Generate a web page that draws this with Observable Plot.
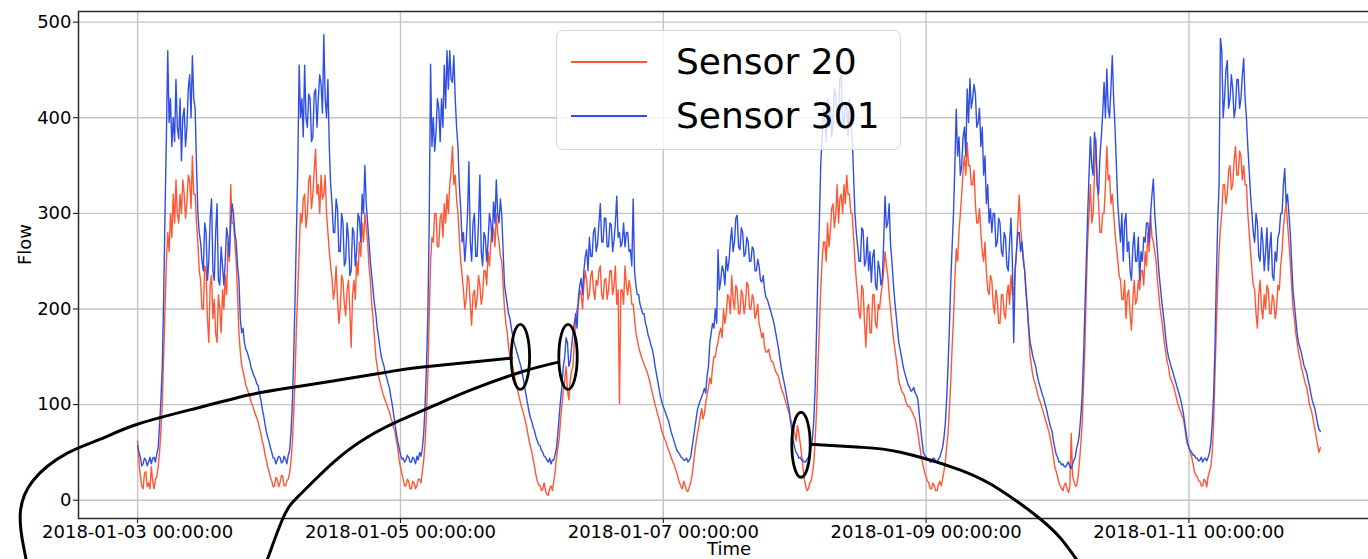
<!DOCTYPE html>
<html>
<head>
<meta charset="utf-8">
<script src="https://cdn.jsdelivr.net/npm/d3@7"></script>
<script src="https://cdn.jsdelivr.net/npm/@observablehq/plot@0.6"></script>
<style>
  html, body { margin: 0; padding: 0; background: #fff; }
  #wrap { position: relative; width: 1368px; height: 559px; overflow: hidden; font-family: "DejaVu Sans", sans-serif; }
  #legend { position: absolute; left: 556px; top: 30px; width: 345px; height: 120px; box-sizing: border-box;
            background: rgba(255,255,255,0.8); border: 1.2px solid #d6d6d6; border-radius: 7px; }
  .lg-line { position: absolute; left: 14px; width: 76px; height: 2px; }
  .lg-text { position: absolute; left: 119px; font-size: 36px; line-height: 44px; height: 44px; color: #000; white-space: nowrap; }
</style>
</head>
<body>
<div id="wrap"></div>
<script>
// ---------------- data (15-minute samples from 2018-01-03 00:00) ----------------
const startTime = "2018-01-03T00:00:00Z";
const stepMinutes = 15;
const seriesNames = ["Sensor 20", "Sensor 301"];
const seriesColors = ["#ff5733", "#2f4fe4"];

const sensor20 = [
  // Jan 3
  62,40,25,15, 12,28,30,14, 18,12,35,20, 12,22,25,35, 50,72,100,150, 200,250,280,260, 300,275,320,290, 335,300,290,320,
  300,335,320,295, 310,340,335,305, 360,320,320,290, 270,240,230,200, 200,245,240,190, 165,225,235,190, 210,175,165,215, 200,175,220,200,
  235,215,270,250, 330,290,290,270, 250,215,175,155, 141,135,128,120, 117,112,108,102, 99,94,90,86, 82,76,70,62, 57,48,42,35,
  // Jan 4
  30,24,20,14, 15,24,22,14, 18,26,25,15, 15,20,22,28, 40,60,90,130, 180,220,260,300, 290,315,320,285, 300,335,340,305,
  320,345,367,320, 330,300,340,315, 320,340,300,280, 260,245,232,210, 220,245,210,185, 200,235,230,205, 193,220,230,200, 160,215,230,210,
  250,235,270,255, 290,270,300,285, 270,245,230,205, 190,170,150,140, 130,124,118,112, 108,104,100,96, 92,86,82,76, 72,62,55,42,
  // Jan 5
  35,28,22,15, 15,22,20,12, 12,20,18,12, 15,22,22,18, 30,42,60,90, 130,190,250,275, 270,300,300,265, 265,295,300,275,
  310,290,320,300, 330,345,370,330, 340,315,300,275, 250,235,220,200, 210,235,230,205, 183,215,220,200, 210,235,225,205, 215,240,240,225,
  260,245,270,285, 284,265,300,280, 270,255,250,225, 200,185,175,160, 150,145,140,132, 125,118,112,106, 100,95,90,84, 78,70,62,56,
  // Jan 6
  50,42,35,26, 20,16,15,10, 12,18,10,6, 5,12,15,10, 20,30,45,55, 65,85,100,115, 125,140,115,105, 125,135,140,165,
  190,200,205,220, 215,200,225,240, 230,210,215,235, 240,220,210,230, 225,240,245,215, 210,230,232,210, 220,240,240,215, 225,245,205,220,
  101,220,220,205, 245,225,215,230, 222,205,205,190, 175,168,160,155, 150,146,142,138, 135,130,125,118, 112,106,100,95, 89,84,78,72,
  // Jan 7
  68,64,61,56, 52,48,44,40, 37,32,28,22, 18,14,12,20, 15,10,9,14, 18,26,37,50, 61,70,78,88, 96,85,90,102,
  110,118,128,122, 140,150,150,160, 165,175,180,170, 200,185,195,215, 212,195,235,210, 200,225,220,195, 195,220,215,195, 205,228,225,200,
  200,215,210,190, 195,205,185,178, 170,175,160,155, 155,158,150,145, 145,140,135,132, 130,124,118,114, 110,105,100,95, 90,85,80,74,
  // Jan 8
  70,62,78,70, 60,48,35,22, 15,10,12,18, 20,28,40,65, 95,140,180,220, 250,270,270,250, 290,265,280,305, 310,285,300,330,
  290,315,320,300, 330,310,340,320, 320,300,300,275, 250,230,215,195, 190,225,220,185, 160,200,205,175, 175,215,215,185, 180,205,200,215,
  225,240,260,245, 235,215,200,185, 170,160,150,138, 125,120,115,112, 110,104,100,98, 98,94,92,88, 85,78,70,60, 50,42,35,28,
  // Jan 9
  25,20,18,12, 12,18,15,10, 10,16,20,15, 22,30,40,55, 70,95,124,160, 190,230,263,250, 280,300,320,345, 360,340,374,350,
  350,330,330,345, 310,290,290,305, 280,260,250,270, 240,220,215,235, 230,205,195,220, 210,185,185,215, 215,195,190,215, 225,205,235,215,
  215,240,260,290, 319,285,270,255, 240,215,200,175, 150,140,130,125, 120,114,108,104, 100,95,90,85, 80,75,70,62, 55,45,35,30,
  // Jan 10
  25,18,15,12, 10,16,18,12, 8,14,70,25, 20,15,15,25, 40,58,80,120, 160,220,270,300, 330,290,300,340, 378,330,310,280,
  280,300,300,330, 370,335,340,310, 320,300,280,265, 250,235,230,210, 210,230,190,215, 220,195,178,210, 230,205,210,230, 220,240,240,225,
  260,245,280,260, 298,275,270,260, 250,230,215,200, 190,178,165,155, 145,140,130,126, 122,118,112,106, 100,96,92,88, 85,75,65,58,
  // Jan 11
  55,50,45,38, 30,26,25,20, 20,15,15,22, 20,14,25,30, 35,50,80,130, 180,225,260,285, 300,330,330,310, 320,345,350,325,
  330,355,370,340, 340,365,360,335, 350,330,330,300, 280,260,240,225, 220,195,180,215, 230,200,190,215, 200,225,220,195, 195,215,210,190,
  200,225,220,245, 260,285,300,310, 290,270,250,225, 200,190,175,165, 155,148,140,134, 128,122,118,110, 100,96,90,82, 75,66,58,50,
  // Jan 12 00:00
  55
];

const sensor301 = [
  // Jan 3
  57,50,45,36, 38,44,42,36, 40,45,38,44, 45,40,48,55, 78,105,140,210, 300,380,470,395, 420,370,400,375, 440,390,378,420,
  355,400,410,370, 390,430,445,400, 465,420,410,350, 300,280,270,250, 240,290,280,230, 250,295,315,240, 230,280,310,230, 225,265,245,225,
  250,285,275,255, 290,310,300,280, 270,245,230,190, 175,180,165,158, 155,150,145,138, 134,130,127,122, 120,112,105,96, 89,80,72,66,
  // Jan 4
  61,55,50,44, 44,38,42,46, 45,39,40,46, 43,38,47,52, 70,100,150,210, 280,350,455,400, 420,380,455,400, 390,425,420,375,
  380,425,430,390, 420,445,435,405, 487,420,400,440, 370,330,310,280, 280,315,305,260, 260,300,290,245, 250,290,275,235, 240,285,280,245,
  260,300,295,270, 320,300,350,310, 290,270,250,235, 220,205,195,180, 170,160,150,145, 140,132,128,122, 117,108,100,90, 80,70,62,55,
  // Jan 5
  48,43,44,40, 42,47,45,40, 40,45,43,38, 46,42,50,46, 54,70,100,140, 193,290,456,370, 400,365,385,420, 410,375,420,390,
  455,410,470,430, 470,440,437,465, 420,390,370,330, 305,270,280,250, 270,300,354,270, 250,290,300,255, 255,290,340,260, 245,280,275,250,
  270,300,290,270, 312,290,335,300, 290,315,298,260, 225,215,205,195, 190,180,172,165, 160,155,150,145, 140,132,125,116, 108,100,92,86,
  // Jan 6
  82,76,72,66, 62,58,57,52, 50,46,45,42, 40,44,38,42, 42,48,55,70, 89,105,120,140, 150,170,165,140, 145,160,175,185,
  195,180,212,225, 232,215,240,255, 262,240,275,255, 255,280,285,260, 268,290,310,270, 270,295,295,265, 265,290,288,260, 272,290,318,275,
  280,265,270,290, 265,280,280,260, 262,245,315,240, 225,215,215,205, 200,195,195,185, 180,172,168,162, 158,150,140,132, 124,116,108,102,
  // Jan 7
  98,94,90,86, 82,76,70,66, 61,56,52,50, 48,45,44,42, 42,44,40,42, 45,55,65,75, 85,95,100,104, 108,112,117,112,
  130,140,165,175, 185,180,200,185, 262,220,230,245, 240,225,255,240, 250,270,285,260, 270,295,298,265, 262,285,280,255, 258,275,270,250,
  250,265,262,240, 240,252,245,230, 228,235,220,212, 210,205,200,195, 190,184,176,168, 160,150,140,132, 125,118,110,102, 95,82,72,62,
  // Jan 8
  55,50,48,44, 45,42,42,40, 40,43,45,48, 55,65,85,120, 180,240,290,350, 380,410,400,375, 420,390,410,380, 395,430,425,395,
  400,440,445,400, 390,415,410,380, 420,395,380,340, 300,280,265,250, 250,285,282,245, 250,275,240,260, 228,255,262,225, 220,250,242,225,
  232,270,318,285, 290,310,268,250, 228,210,195,180, 165,158,150,142, 135,130,125,120, 118,114,115,118, 112,110,105,90, 75,62,50,47,
  // Jan 9
  45,42,42,40, 40,44,44,40, 40,43,45,50, 55,65,80,105, 140,180,228,265, 300,350,409,360, 380,340,350,380, 390,360,430,395,
  441,410,420,435, 425,390,395,410, 370,390,340,360, 310,330,290,305, 280,300,300,265, 270,295,290,260, 255,280,275,245, 240,270,295,250,
  165,240,260,280, 280,260,270,250, 240,220,200,180, 165,158,150,145, 140,132,125,120, 115,110,106,100, 95,88,82,76, 72,62,55,48,
  // Jan 10
  45,40,40,37, 38,35,35,38, 40,35,33,38, 42,45,55,60, 70,88,110,150, 200,250,298,340, 380,350,340,385, 370,330,320,360,
  380,405,437,400, 451,410,400,430, 465,420,390,350, 310,290,270,300, 250,290,300,260, 270,240,230,265, 280,250,250,275, 230,260,250,275,
  270,290,290,270, 300,320,336,300, 280,260,240,225, 210,198,185,170, 158,150,145,140, 135,130,125,120, 115,110,105,98, 90,80,70,60,
  // Jan 11
  55,52,50,47, 47,44,44,41, 42,45,40,43, 44,41,45,50, 60,80,110,160, 230,290,330,483, 470,400,420,450, 460,410,420,445,
  430,400,410,440, 440,410,420,445, 462,420,400,370, 345,320,300,280, 270,300,290,255, 250,285,270,240, 260,285,240,265, 280,235,230,260,
  250,275,280,300, 300,330,347,310, 320,300,280,250, 220,205,190,175, 165,160,155,148, 141,137,133,126, 120,112,105,100, 96,88,80,74,
  // Jan 12 00:00
  72
];

const xTickDates = ["2018-01-03", "2018-01-05", "2018-01-07", "2018-01-09", "2018-01-11"];
const yTicks = [0, 100, 200, 300, 400, 500];
const xLabel = "Time";
const yLabel = "Flow";

// annotation marks (hours after start, flow)
const ellipseCenters = [[69.9, 150], [78.6, 150], [121.15, 58]];
const linkCurves = [
  [[68.23,148.5],[51.64,139.1],[44.33,132.8],[28.44,118.2],[20.04,109.8],[11.45,97.3],[-0.05,79.5],[-6.81,63.8],[-12.84,49.2],[-19.05,20.9],[-21.43,-13.6],[-20.88,-47.1],[-20.15,-68]],
  [[76.86,144.4],[69.91,133.9],[60.78,115.1],[53.47,97.3],[47.99,83.7],[41.96,65.9],[35.75,39.7],[29.72,6.3],[26.62,-17.8],[23.7,-61.7],[22.78,-73.2]],
  [[122.89,58.6],[132.02,55.4],[139.33,50.2],[150.29,31.4],[157.6,10.5],[164.0,-15.7],[168.55,-39.7],[172.21,-68]]
];

// ---------------- build ----------------
const t0 = new Date(startTime).getTime();
const HOUR = 3600e3;
const toDate = h => new Date(t0 + h * HOUR);
const rows = [];
[sensor20, sensor301].forEach((arr, k) => {
  arr.forEach((v, i) => rows.push({time: new Date(t0 + i * stepMinutes * 60e3), flow: v, sensor: seriesNames[k]}));
});
const spanH = (sensor20.length - 1) * stepMinutes / 60;
const padH = spanH * 0.05;
const allVals = sensor20.concat(sensor301);
const vMin = d3.min(allVals), vMax = d3.max(allVals);
const padV = (vMax - vMin) * 0.05;

const curveRows = [];
linkCurves.forEach((c, k) => c.forEach(([h, f]) => curveRows.push({k, time: toDate(h), flow: f})));

const ellipseSymbol = {
  draw(ctx) {
    const rx = 9.2, ry = 32.5, c = 0.5523;
    ctx.moveTo(rx, 0);
    ctx.bezierCurveTo(rx, c * ry, c * rx, ry, 0, ry);
    ctx.bezierCurveTo(-c * rx, ry, -rx, c * ry, -rx, 0);
    ctx.bezierCurveTo(-rx, -c * ry, -c * rx, -ry, 0, -ry);
    ctx.bezierCurveTo(c * rx, -ry, rx, -c * ry, rx, 0);
    ctx.closePath();
  }
};

const xTicks = xTickDates.map(d => new Date(d + "T00:00:00Z"));
const fmt = d3.utcFormat("%Y-%m-%d %H:%M:%S");

const chart = Plot.plot({
  width: 1368,
  height: 559,
  marginLeft: 78,
  marginRight: -11,
  marginTop: 11,
  marginBottom: 41,
  style: {fontFamily: "DejaVu Sans, sans-serif", fontSize: "18px", color: "#000", background: "#fff", overflow: "hidden"},
  x: {type: "utc", domain: [toDate(-padH), toDate(spanH + padH)], ticks: xTicks, tickFormat: fmt, tickSize: 5, tickPadding: 2, label: null},
  y: {domain: [vMin - padV, vMax + padV], ticks: yTicks, tickSize: 5, tickPadding: 2, label: null},
  color: {domain: seriesNames, range: seriesColors},
  marks: [
    Plot.ruleX(xTicks, {stroke: "#c4c4c4", strokeWidth: 1.4}),
    Plot.ruleY(yTicks, {stroke: "#c4c4c4", strokeWidth: 1.4}),
    Plot.line(rows, {x: "time", y: "flow", z: "sensor", stroke: "sensor", strokeWidth: 1.4}),
    Plot.frame({stroke: "#2b2b2b", strokeWidth: 1.5}),
    Plot.line(curveRows, {x: "time", y: "flow", z: "k", stroke: "black", strokeWidth: 3, curve: "natural"}),
    Plot.dot(ellipseCenters, {x: d => toDate(d[0]), y: d => d[1], symbol: ellipseSymbol, stroke: "black", fill: "none", strokeWidth: 2.8}),
    Plot.text([xLabel], {frameAnchor: "bottom", dy: 36, text: d => d, fontSize: 18}),
    Plot.text([yLabel], {frameAnchor: "left", dx: -53, rotate: -90, text: d => d, fontSize: 18})
  ]
});

const wrap = document.getElementById("wrap");
wrap.appendChild(chart);

// legend
const legend = document.createElement("div");
legend.id = "legend";
seriesNames.forEach((name, i) => {
  const top = i === 0 ? 9 : 63;
  const line = document.createElement("div");
  line.className = "lg-line";
  line.style.top = (top + 21) + "px";
  line.style.background = seriesColors[i];
  legend.appendChild(line);
  const txt = document.createElement("div");
  txt.className = "lg-text";
  txt.style.top = top + "px";
  txt.textContent = name;
  legend.appendChild(txt);
});
wrap.appendChild(legend);
</script>
</body>
</html>
